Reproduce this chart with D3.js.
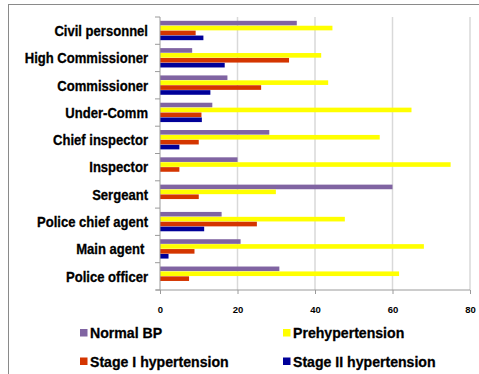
<!DOCTYPE html>
<html><head><meta charset="utf-8">
<script src="https://cdn.jsdelivr.net/npm/d3@7"></script>
<style>body{margin:0;background:#fff}svg{display:block}</style>
</head><body>
<script>
const categories = ["Civil personnel","High Commissioner","Commissioner","Under-Comm","Chief inspector","Inspector","Sergeant","Police chief agent","Main agent ","Police officer"];
const seriesNames = ["Normal BP","Prehypertension","Stage I hypertension","Stage II hypertension"];
const normalBP = [35.3, 8.3, 17.4, 13.5, 28.2, 20, 60, 15.9, 20.8, 30.8];
const prehypertension = [44.5, 41.6, 43.4, 64.9, 56.7, 75.0, 29.9, 47.7, 68.1, 61.7];
const stage1 = [9.2, 33.3, 26.1, 10.7, 10.0, 5.0, 10.0, 25.0, 8.9, 7.5];
const stage2 = [11.2, 16.7, 13.0, 10.8, 5.0, 0, 0, 11.4, 2.2, 0];
const xTicks = [0, 20, 40, 60, 80];
const colors = ["#8064A2", "#FFFF00", "#D43500", "#000099"];

const seriesValues = [normalBP, prehypertension, stage1, stage2];
const W = 479, H = 374;
const svg = d3.select("body").append("svg").attr("width", W).attr("height", H);

// outer frame
svg.append("rect").attr("x", 8.5).attr("y", 4.5).attr("width", W + 10).attr("height", H + 10)
  .attr("fill", "none").attr("stroke", "#8a8a8a").attr("stroke-width", 1);

const x = d3.scaleLinear().domain([0, 80]).range([160, 470]);
const y = d3.scaleBand().domain(categories).range([17, 290]).paddingInner(0.28).paddingOuter(0.14);
const yInner = d3.scaleBand().domain(seriesNames).range([0, y.bandwidth()]);

// gridlines
svg.append("g").selectAll("line").data(xTicks.filter(d => d > 0)).join("line")
  .attr("x1", d => x(d)).attr("x2", d => x(d)).attr("y1", 17).attr("y2", 290)
  .attr("stroke", "#d9d9d9").attr("stroke-width", 1.5);

// bars
const groups = svg.append("g").selectAll("g").data(categories).join("g")
  .attr("transform", c => `translate(0,${y(c)})`);
groups.selectAll("rect").data((c, i) => seriesNames.map((s, j) => ({s, j, v: seriesValues[j][i]})))
  .join("rect")
  .attr("x", x(0)).attr("y", d => yInner(d.s))
  .attr("width", d => x(d.v) - x(0)).attr("height", yInner.bandwidth() - 0.3)
  .attr("fill", d => colors[d.j]);

// y axis
const yAxisG = svg.append("g");
yAxisG.append("line").attr("x1", 160).attr("x2", 160).attr("y1", 17).attr("y2", 290).attr("stroke", "#9a9a9a");
const step = y.step();
const boundaries = d3.range(categories.length + 1).map(i => 17 + i * step);
yAxisG.selectAll("line.t").data(boundaries).join("line").attr("class", "t")
  .attr("x1", 155).attr("x2", 160).attr("y1", d => d).attr("y2", d => d).attr("stroke", "#9a9a9a");

// x axis
const xAxis = d3.axisBottom(x).tickValues(xTicks).tickSize(4).tickPadding(12);
const xg = svg.append("g").attr("transform", "translate(0,290)").call(xAxis);
xg.select(".domain").attr("stroke", "#9a9a9a").attr("d", "M156,0H470");
xg.selectAll(".tick line").attr("stroke", "#9a9a9a");
xg.selectAll(".tick text").attr("fill", "#000").attr("font-family", "Liberation Sans, Arial, sans-serif")
  .attr("font-weight", "bold").attr("font-size", 9.5);

// category labels
const labels = svg.append("g").selectAll("text").data(categories).join("text")
  .attr("x", 148).attr("y", c => y(c) + y.bandwidth() / 2 + 5.3)
  .attr("text-anchor", "end")
  .attr("font-family", "Liberation Sans, Arial, sans-serif").attr("font-weight", "bold")
  .attr("font-size", 15).attr("fill", "#000").attr("stroke", "#000").attr("stroke-width", 0.3)
  .attr("xml:space", "preserve")
  .text(c => c);
labels.each(function() {
  const w = this.getComputedTextLength();
  d3.select(this).attr("textLength", w * 0.87).attr("lengthAdjust", "spacingAndGlyphs");
});

// legend
const legendPos = [[80, 338], [283, 338], [80, 366.5], [283, 366.5]];
const lg = svg.append("g").selectAll("g").data(seriesNames).join("g")
  .attr("transform", (d, i) => `translate(${legendPos[i][0]},${legendPos[i][1]})`);
lg.append("rect").attr("x", 0).attr("y", -9).attr("width", 7.5).attr("height", 7.5)
  .attr("fill", (d, i) => colors[i]);
lg.append("text").attr("x", 10).attr("y", 0)
  .attr("font-family", "Liberation Sans, Arial, sans-serif").attr("font-weight", "bold")
  .attr("font-size", 15).attr("fill", "#000").attr("stroke", "#000").attr("stroke-width", 0.3)
  .text(d => d)
  .each(function() {
    const w = this.getComputedTextLength();
    d3.select(this).attr("textLength", w * 0.94).attr("lengthAdjust", "spacingAndGlyphs");
  });
</script>
</body></html>
